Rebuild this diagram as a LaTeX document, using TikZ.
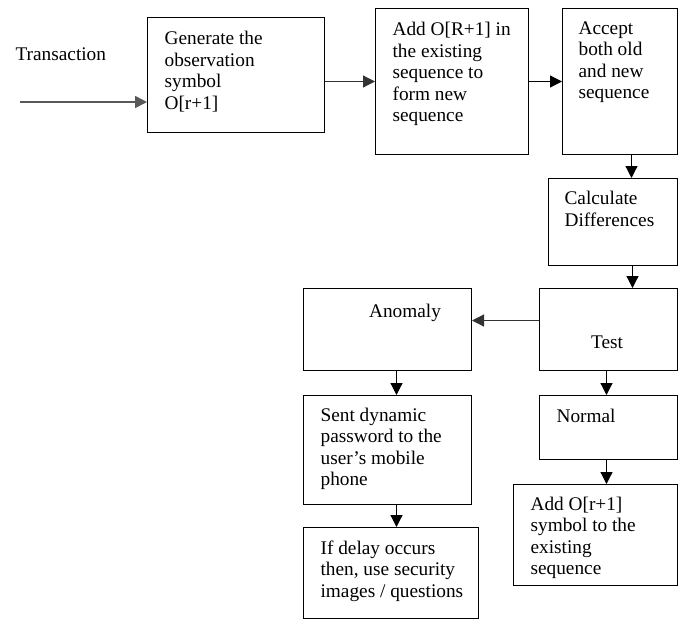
\documentclass[tikz,border=0pt]{standalone}
\usepackage{fontspec}
\setmainfont{Liberation Serif}
\usetikzlibrary{arrows.meta}
\tikzset{
  box/.style={draw, line width=1pt, rectangle, anchor=north west, inner sep=0pt},
  txt/.style={anchor=north west, inner sep=0pt, align=left, font=\fontsize{19.3}{21.5}\selectfont},
  >={Triangle[length=12pt,width=12pt]}
}
\begin{document}
\begin{tikzpicture}[x=1pt,y=-1pt,line width=1.2pt]
\useasboundingbox (0,0) rectangle (685,619);
\node[box, minimum width=177, minimum height=115] (gen) at (147,17) {};
\node[box, minimum width=153, minimum height=146] (add) at (375,8) {};
\node[box, minimum width=115, minimum height=146] (acc) at (562,8) {};
\node[box, minimum width=129, minimum height=87] (calc) at (548,178) {};
\node[box, minimum width=138, minimum height=82] (test) at (539,288) {};
\node[box, minimum width=168, minimum height=82] (anom) at (303,288) {};
\node[box, minimum width=168, minimum height=109] (sent) at (303,395) {};
\node[box, minimum width=175, minimum height=91] (ifd) at (303,527) {};
\node[box, minimum width=138, minimum height=64] (norm) at (539,395) {};
\node[box, minimum width=164, minimum height=101] (add2) at (513,484) {};

\node[txt] (trans) at (15,47) {Transaction};
\node[txt] (gentxt) at (164,31) {Generate the\\observation\\symbol\\O[r+1]};
\node[txt] (addtxt) at (392,22) {Add O[R+1] in\\the existing\\sequence to\\form new\\sequence};
\node[txt] (acctxt) at (578,21) {Accept\\both old\\and new\\sequence};
\node[txt] (calctxt) at (564,191) {Calculate\\Differences};
\node[txt, anchor=north] (anomtxt) at (405,304) {Anomaly};
\node[txt, anchor=north] (testtxt) at (607,335) {Test};
\node[txt] (senttxt) at (320,407) {Sent dynamic\\password to the\\user’s mobile\\phone};
\node[txt] (ifdtxt) at (320,540) {If delay occurs\\then, use security\\images / questions};
\node[txt] (normtxt) at (556,408) {Normal};
\node[txt] (add2txt) at (530,496) {Add O[r+1]\\symbol to the\\existing\\sequence};

\coordinate (tin) at (20,102);
\draw[->, line width=1.6pt, gray!70!black] (tin) -- (tin -| gen.west);
\draw[->, gray!40!black] (gen.east |- add.west) -- (add.west);
\draw[->] (add.east) -- (acc.west);
\draw[->] ([xshift=11.5]acc.south) -- ([xshift=11.5]acc.south |- calc.north);
\draw[->] ([xshift=19.5]calc.south) -- ([xshift=19.5]calc.south |- test.north);
\draw[->, gray!40!black] ([yshift=9]test.west) -- ([yshift=9]test.west -| anom.east);
\draw[->] ([xshift=9]anom.south) -- ([xshift=9]anom.south |- sent.north);
\draw[->] ([xshift=9]sent.south) -- ([xshift=9]sent.south |- ifd.north);
\draw[->] ([xshift=-2]test.south) -- ([xshift=-2]test.south |- norm.north);
\draw[->] ([xshift=-2]norm.south) -- ([xshift=-2]norm.south |- add2.north);
\end{tikzpicture}
\end{document}
